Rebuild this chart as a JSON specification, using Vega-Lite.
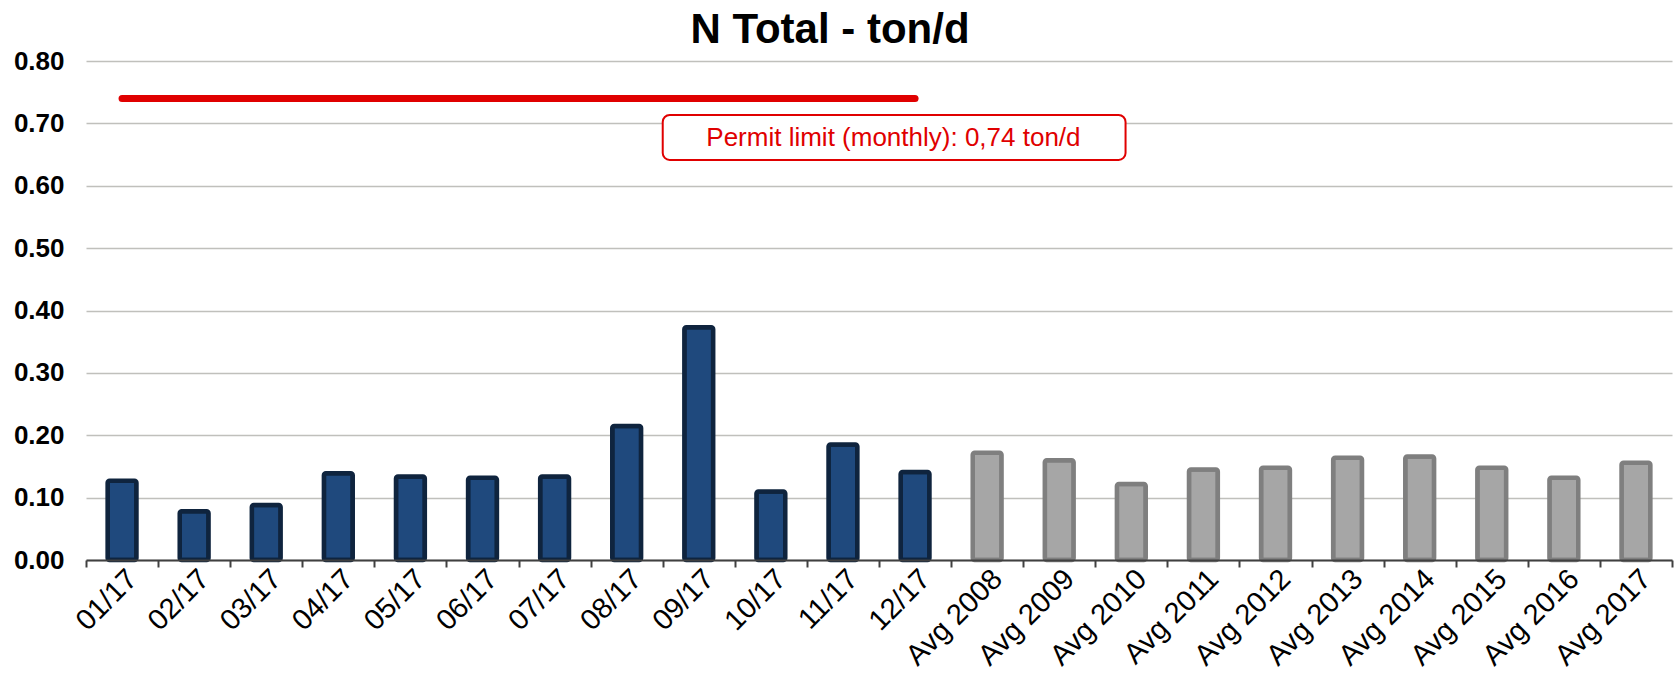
{
  "$schema": "https://vega.github.io/schema/vega-lite/v6.json",
  "autosize": "none",
  "width": 1586,
  "height": 499,
  "padding": {"left": 86, "top": 61, "right": 8, "bottom": 117},
  "background": "white",
  "config": {"font": "Liberation Sans", "view": {"stroke": null}},
  "title": {"text": "N Total - ton/d", "fontSize": 42, "fontWeight": "bold", "font": "Liberation Sans", "color": "#000000", "anchor": "middle", "baseline": "alphabetic", "offset": -37, "dx": -49},
  "datasets": {
    "bars": [
      {"cat": "01/17", "kind": "Monthly", "value": 0.127},
      {"cat": "02/17", "kind": "Monthly", "value": 0.078},
      {"cat": "03/17", "kind": "Monthly", "value": 0.088},
      {"cat": "04/17", "kind": "Monthly", "value": 0.139},
      {"cat": "05/17", "kind": "Monthly", "value": 0.134},
      {"cat": "06/17", "kind": "Monthly", "value": 0.132},
      {"cat": "07/17", "kind": "Monthly", "value": 0.134},
      {"cat": "08/17", "kind": "Monthly", "value": 0.215},
      {"cat": "09/17", "kind": "Monthly", "value": 0.373},
      {"cat": "10/17", "kind": "Monthly", "value": 0.110},
      {"cat": "11/17", "kind": "Monthly", "value": 0.185},
      {"cat": "12/17", "kind": "Monthly", "value": 0.141},
      {"cat": "Avg 2008", "kind": "Average", "value": 0.172},
      {"cat": "Avg 2009", "kind": "Average", "value": 0.160},
      {"cat": "Avg 2010", "kind": "Average", "value": 0.122},
      {"cat": "Avg 2011", "kind": "Average", "value": 0.145},
      {"cat": "Avg 2012", "kind": "Average", "value": 0.148},
      {"cat": "Avg 2013", "kind": "Average", "value": 0.164},
      {"cat": "Avg 2014", "kind": "Average", "value": 0.166},
      {"cat": "Avg 2015", "kind": "Average", "value": 0.148},
      {"cat": "Avg 2016", "kind": "Average", "value": 0.132},
      {"cat": "Avg 2017", "kind": "Average", "value": 0.156}
    ],
    "limit": [
      {"cat": "01/17", "limit": 0.74},
      {"cat": "12/17", "limit": 0.74}
    ],
    "note": [
      {"label": "Permit limit (monthly): 0,74 ton/d"}
    ]
  },
  "layer": [
    {
      "data": {"name": "bars"},
      "transform": [{"filter": "datum.kind === 'Monthly'"}],
      "mark": {"type": "bar", "width": {"band": 0.4}, "cornerRadius": 2, "fill": "#1f497d", "stroke": "#0f243e", "strokeWidth": 4.5},
      "encoding": {
        "x": {
          "field": "cat", "type": "nominal",
          "scale": {"domain": ["01/17","02/17","03/17","04/17","05/17","06/17","07/17","08/17","09/17","10/17","11/17","12/17","Avg 2008","Avg 2009","Avg 2010","Avg 2011","Avg 2012","Avg 2013","Avg 2014","Avg 2015","Avg 2016","Avg 2017"], "paddingInner": 0, "paddingOuter": 0},
          "axis": {"title": null, "labelAngle": -45, "labelAlign": "right", "labelBaseline": "top", "labelFontSize": 29, "labelColor": "#000000", "labelPadding": -3, "tickSize": 7, "tickWidth": 2, "tickColor": "#404040", "domainColor": "#404040", "domainWidth": 2, "tickBand": "extent", "grid": false, "zindex": 1, "labelFont": "Liberation Sans", "labelLimit": 400}
        },
        "y": {
          "field": "value", "type": "quantitative",
          "scale": {"domain": [0, 0.8], "nice": false},
          "axis": {"title": null, "values": [0, 0.1, 0.2, 0.3, 0.4, 0.5, 0.6, 0.7, 0.8], "format": ".2f", "labelFontSize": 26, "labelFontWeight": "bold", "labelColor": "#000000", "labelPadding": 22, "ticks": false, "domain": false, "grid": true, "gridColor": "#c0c0bc", "gridWidth": 1.6, "labelFont": "Liberation Sans"}
        }
      }
    },
    {
      "data": {"name": "bars"},
      "transform": [{"filter": "datum.kind === 'Average'"}],
      "mark": {"type": "bar", "width": {"band": 0.4}, "cornerRadius": 2, "fill": "#a6a6a6", "stroke": "#7f7f7f", "strokeWidth": 4.5},
      "encoding": {
        "x": {"field": "cat", "type": "nominal"},
        "y": {"field": "value", "type": "quantitative"}
      }
    },
    {
      "data": {"name": "limit"},
      "mark": {"type": "line", "color": "#e00000", "strokeWidth": 7, "strokeCap": "round"},
      "encoding": {
        "x": {"field": "cat", "type": "nominal"},
        "y": {"field": "limit", "type": "quantitative"}
      }
    },
    {
      "data": {"name": "note"},
      "mark": {"type": "rect", "fill": "white", "stroke": "#e00000", "strokeWidth": 2, "cornerRadius": 7},
      "encoding": {
        "x": {"datum": "09/17", "type": "nominal", "bandPosition": 0},
        "x2": {"datum": "Avg 2010", "bandPosition": 0.42},
        "y": {"datum": 0.6414, "type": "quantitative"},
        "y2": {"datum": 0.7136}
      }
    },
    {
      "data": {"name": "note"},
      "mark": {"type": "text", "color": "#e00000", "fontSize": 26, "font": "Liberation Sans", "align": "center", "baseline": "middle"},
      "encoding": {
        "x": {"datum": "12/17", "type": "nominal", "bandPosition": 0.2},
        "y": {"datum": 0.677, "type": "quantitative"},
        "text": {"field": "label"}
      }
    }
  ]
}
